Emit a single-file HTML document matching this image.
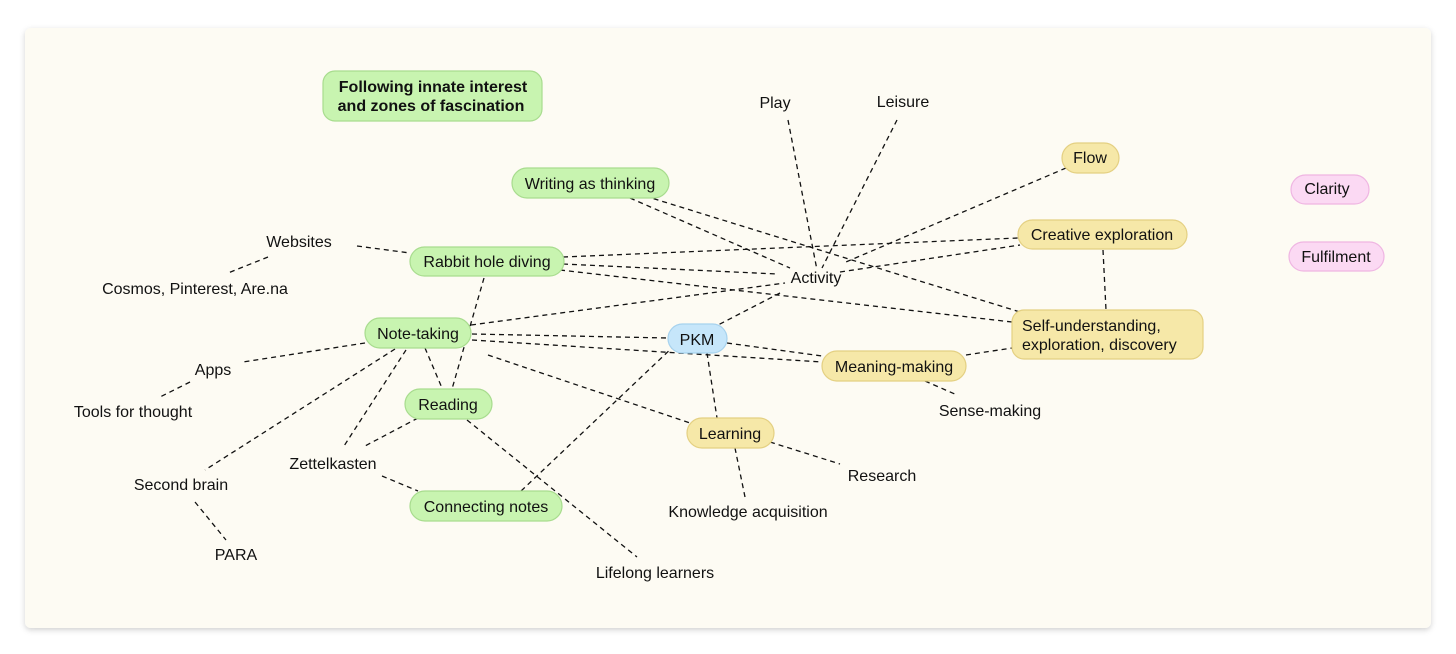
<!DOCTYPE html>
<html><head><meta charset="utf-8"><style>
html,body{margin:0;padding:0;background:#fff;width:1456px;height:654px;overflow:hidden}
svg{display:block}
text{font-family:"Liberation Sans",Arial,sans-serif;font-size:16px;fill:#111;dominant-baseline:middle;text-anchor:middle}
</style></head><body>
<svg width="1456" height="654" viewBox="0 0 1456 654">
<defs><filter id="sh" x="-5%" y="-5%" width="110%" height="115%"><feDropShadow dx="0" dy="2" stdDeviation="3" flood-color="#000" flood-opacity="0.18"/></filter></defs>
<rect x="25" y="28" width="1406" height="600" rx="6" fill="#fdfbf3" filter="url(#sh)"/>
<g stroke="#111" stroke-width="1.3" stroke-dasharray="5,4" fill="none">
<line x1="788" y1="120" x2="817" y2="270"/>
<line x1="897" y1="120" x2="822" y2="268"/>
<line x1="1066" y1="168" x2="846" y2="262"/>
<line x1="630" y1="198" x2="790" y2="268"/>
<line x1="645" y1="196" x2="1020" y2="312"/>
<line x1="563" y1="264" x2="777" y2="274"/>
<line x1="563" y1="257" x2="1018" y2="238"/>
<line x1="560" y1="270" x2="1012" y2="322"/>
<line x1="357" y1="246" x2="410" y2="253"/>
<line x1="268" y1="257" x2="228" y2="273"/>
<line x1="484" y1="278" x2="452" y2="389"/>
<line x1="471" y1="325" x2="785" y2="283"/>
<line x1="840" y1="272" x2="1020" y2="245"/>
<line x1="780" y1="293" x2="718" y2="325"/>
<line x1="472" y1="334" x2="668" y2="338"/>
<line x1="472" y1="340" x2="822" y2="362"/>
<line x1="488" y1="355" x2="690" y2="423"/>
<line x1="727" y1="343" x2="822" y2="356"/>
<line x1="966" y1="355" x2="1012" y2="348"/>
<line x1="1103" y1="250" x2="1106" y2="310"/>
<line x1="925" y1="381" x2="957" y2="395"/>
<line x1="707" y1="353" x2="717" y2="418"/>
<line x1="675" y1="345" x2="520" y2="492"/>
<line x1="365" y1="343" x2="243" y2="362"/>
<line x1="190" y1="382" x2="160" y2="397"/>
<line x1="395" y1="349" x2="205" y2="470"/>
<line x1="406" y1="350" x2="344" y2="446"/>
<line x1="425" y1="348" x2="442" y2="388"/>
<line x1="418" y1="418" x2="365" y2="446"/>
<line x1="382" y1="476" x2="418" y2="491"/>
<line x1="467" y1="420" x2="637" y2="557"/>
<line x1="195" y1="502" x2="226" y2="540"/>
<line x1="735" y1="448" x2="745" y2="497"/>
<line x1="770" y1="442" x2="840" y2="464"/>
</g>
<g stroke-width="1.2">
<rect x="323" y="71" width="219" height="50" rx="12" fill="#c8f4b0" stroke="#a8dc8e"/>
<rect x="512" y="168" width="157" height="30" rx="15" fill="#c8f4b0" stroke="#a8dc8e"/>
<rect x="410" y="247" width="154" height="29" rx="14.5" fill="#c8f4b0" stroke="#a8dc8e"/>
<rect x="365" y="318" width="106" height="30" rx="15" fill="#c8f4b0" stroke="#a8dc8e"/>
<rect x="405" y="389" width="87" height="30" rx="15" fill="#c8f4b0" stroke="#a8dc8e"/>
<rect x="410" y="491" width="152" height="30" rx="15" fill="#c8f4b0" stroke="#a8dc8e"/>
<rect x="668" y="324" width="59" height="29" rx="14.5" fill="#c6e6fa" stroke="#a6d2ee"/>
<rect x="687" y="418" width="87" height="30" rx="15" fill="#f6e8a8" stroke="#e4d082"/>
<rect x="822" y="351" width="144" height="30" rx="15" fill="#f6e8a8" stroke="#e4d082"/>
<rect x="1012" y="310" width="191" height="49" rx="12" fill="#f6e8a8" stroke="#e4d082"/>
<rect x="1018" y="220" width="169" height="29" rx="14.5" fill="#f6e8a8" stroke="#e4d082"/>
<rect x="1062" y="143" width="57" height="30" rx="15" fill="#f6e8a8" stroke="#e4d082"/>
<rect x="1291" y="175" width="78" height="29" rx="14.5" fill="#fbd9f3" stroke="#efb5e2"/>
<rect x="1289" y="242" width="95" height="29" rx="14.5" fill="#fbd9f3" stroke="#efb5e2"/>
</g>
<g transform="translate(0,1)">
<text x="433" y="87" style="font-weight:bold">Following innate interest</text>
<text x="431" y="106" style="font-weight:bold">and zones of fascination</text>
<text x="590" y="184">Writing as thinking</text>
<text x="487" y="262">Rabbit hole diving</text>
<text x="418" y="334">Note-taking</text>
<text x="448" y="405">Reading</text>
<text x="486" y="507">Connecting notes</text>
<text x="697" y="340">PKM</text>
<text x="730" y="434">Learning</text>
<text x="894" y="367">Meaning-making</text>
<text x="1022" y="326" style="text-anchor:start">Self-understanding,</text>
<text x="1022" y="345" style="text-anchor:start">exploration, discovery</text>
<text x="1102" y="235">Creative exploration</text>
<text x="1090" y="158">Flow</text>
<text x="1327" y="189">Clarity</text>
<text x="1336" y="257">Fulfilment</text>
<text x="775" y="103">Play</text>
<text x="903" y="102">Leisure</text>
<text x="816" y="278">Activity</text>
<text x="299" y="242">Websites</text>
<text x="195" y="289">Cosmos, Pinterest, Are.na</text>
<text x="213" y="370">Apps</text>
<text x="133" y="412">Tools for thought</text>
<text x="181" y="485">Second brain</text>
<text x="236" y="555">PARA</text>
<text x="333" y="464">Zettelkasten</text>
<text x="655" y="573">Lifelong learners</text>
<text x="748" y="512">Knowledge acquisition</text>
<text x="882" y="476">Research</text>
<text x="990" y="411">Sense-making</text>
</g>
</svg>
</body></html>
